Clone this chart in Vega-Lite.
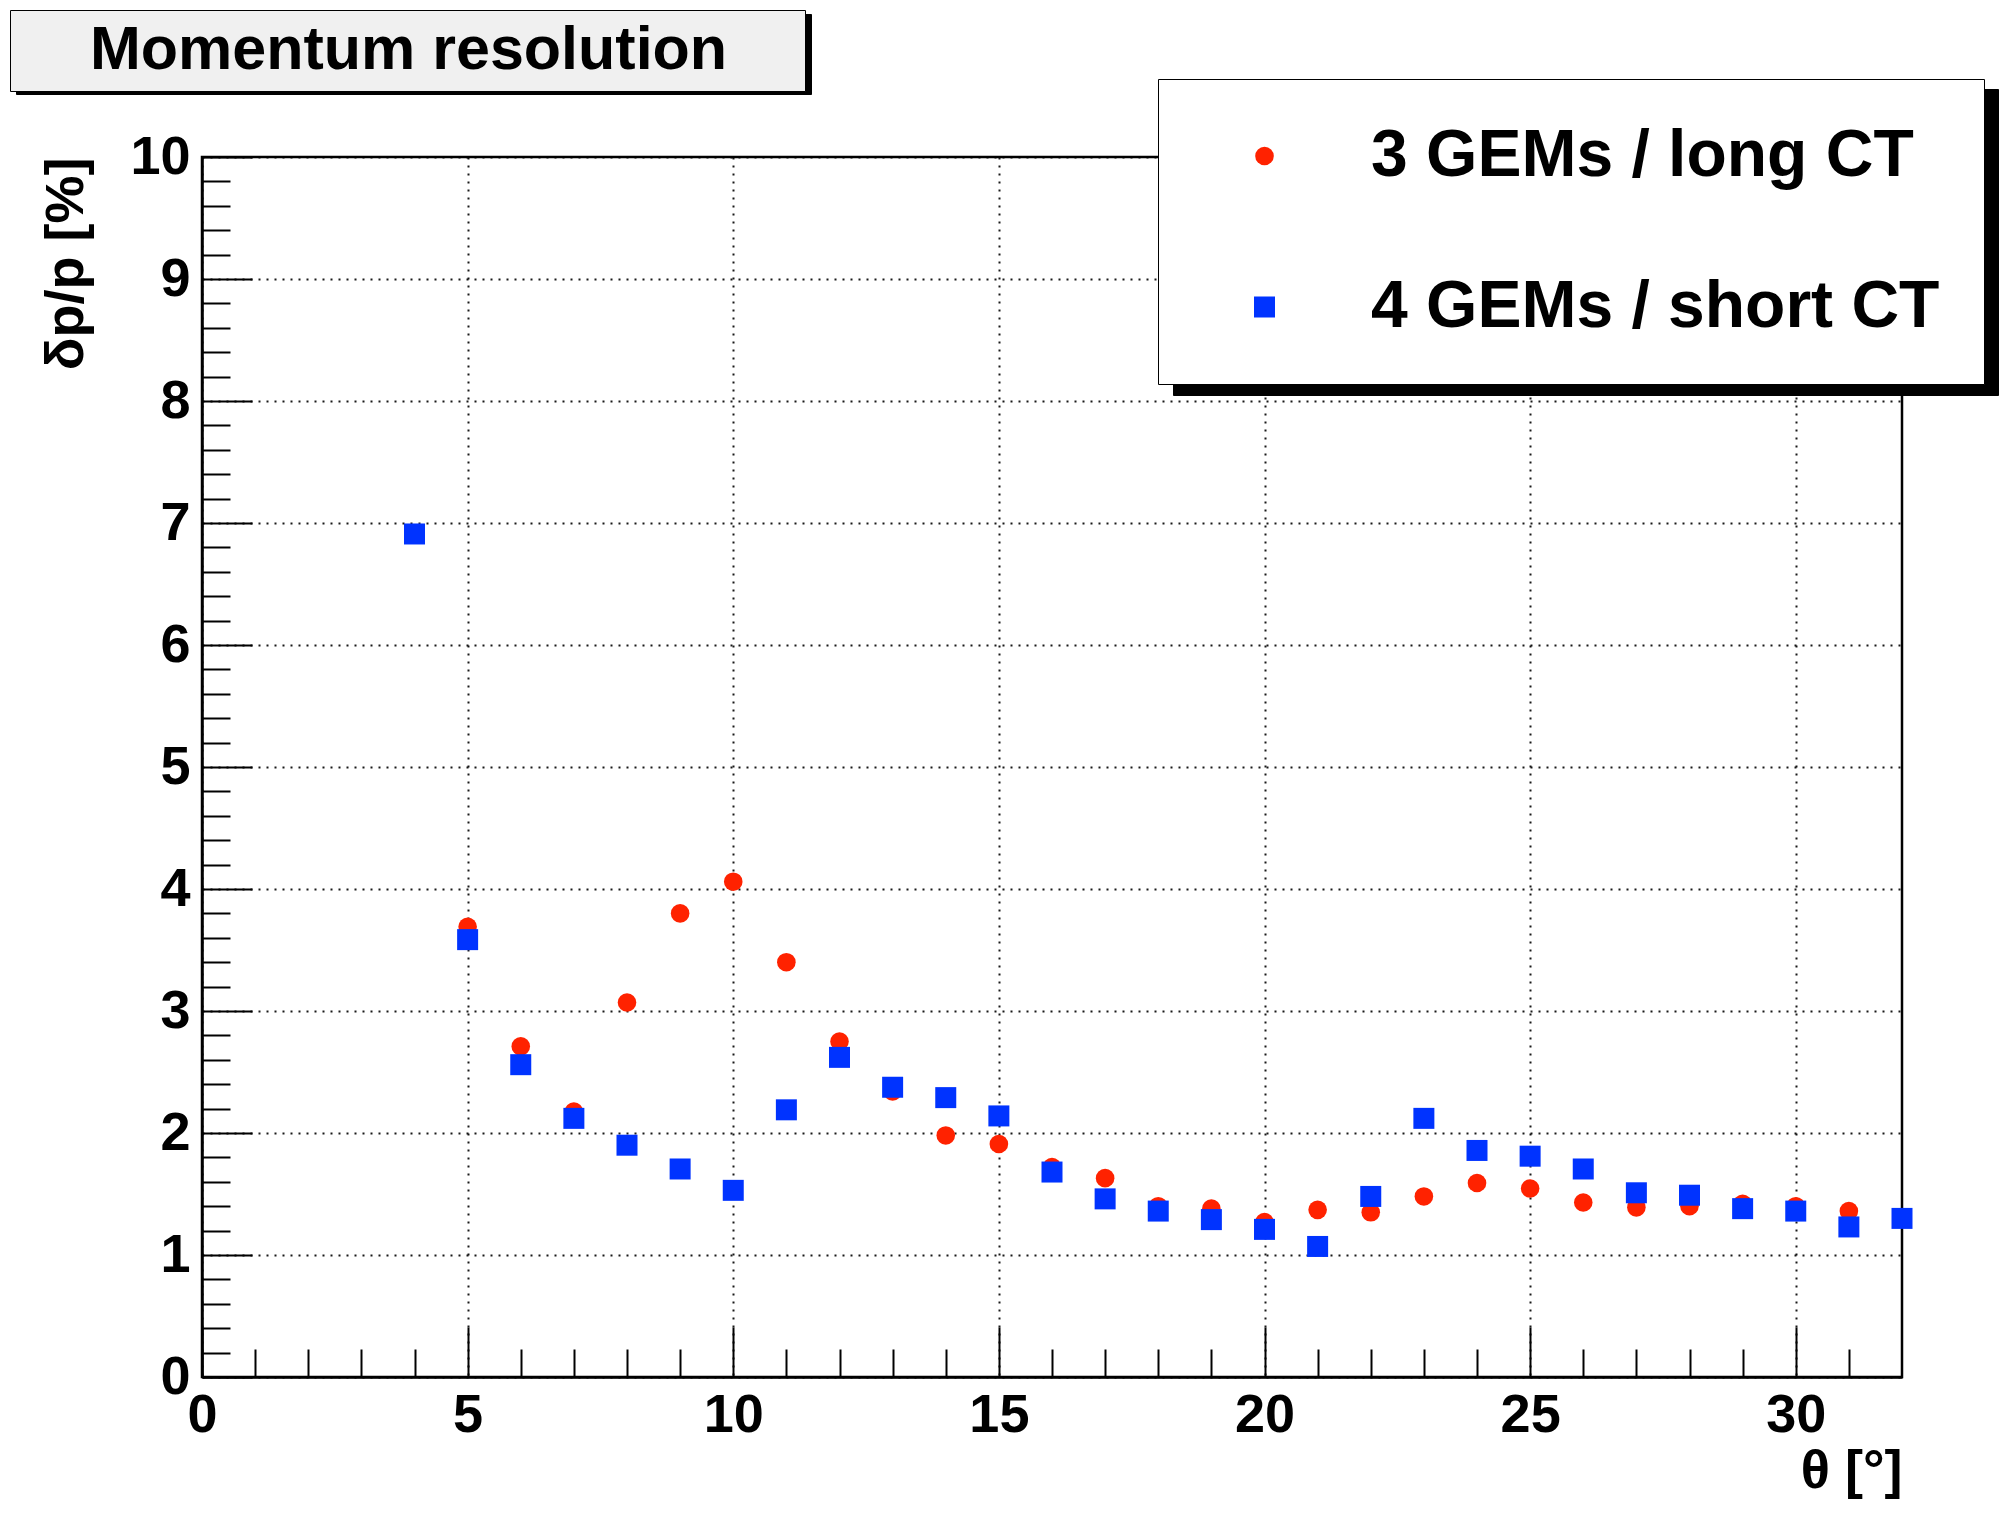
{
  "$schema": "https://vega.github.io/schema/vega-lite/v6.json",
  "width": 1700,
  "height": 1220,
  "autosize": {"type": "none"},
  "padding": {"left": 202, "top": 157, "right": 107, "bottom": 150},
  "background": "#ffffff",
  "config": {
    "view": {"stroke": "#000000", "strokeWidth": 2.5},
    "font": "Liberation Sans"
  },
  "datasets": {
    "long": [
      {"theta": 5, "res": 3.69, "series": "3 GEMs / long CT"},
      {"theta": 6, "res": 2.71, "series": "3 GEMs / long CT"},
      {"theta": 7, "res": 2.175, "series": "3 GEMs / long CT"},
      {"theta": 8, "res": 3.07, "series": "3 GEMs / long CT"},
      {"theta": 9, "res": 3.8, "series": "3 GEMs / long CT"},
      {"theta": 10, "res": 4.06, "series": "3 GEMs / long CT"},
      {"theta": 11, "res": 3.4, "series": "3 GEMs / long CT"},
      {"theta": 12, "res": 2.75, "series": "3 GEMs / long CT"},
      {"theta": 13, "res": 2.34, "series": "3 GEMs / long CT"},
      {"theta": 14, "res": 1.98, "series": "3 GEMs / long CT"},
      {"theta": 15, "res": 1.91, "series": "3 GEMs / long CT"},
      {"theta": 16, "res": 1.72, "series": "3 GEMs / long CT"},
      {"theta": 17, "res": 1.63, "series": "3 GEMs / long CT"},
      {"theta": 18, "res": 1.4, "series": "3 GEMs / long CT"},
      {"theta": 19, "res": 1.38, "series": "3 GEMs / long CT"},
      {"theta": 20, "res": 1.27, "series": "3 GEMs / long CT"},
      {"theta": 21, "res": 1.37, "series": "3 GEMs / long CT"},
      {"theta": 22, "res": 1.35, "series": "3 GEMs / long CT"},
      {"theta": 23, "res": 1.48, "series": "3 GEMs / long CT"},
      {"theta": 24, "res": 1.59, "series": "3 GEMs / long CT"},
      {"theta": 25, "res": 1.545, "series": "3 GEMs / long CT"},
      {"theta": 26, "res": 1.43, "series": "3 GEMs / long CT"},
      {"theta": 27, "res": 1.39, "series": "3 GEMs / long CT"},
      {"theta": 28, "res": 1.4, "series": "3 GEMs / long CT"},
      {"theta": 29, "res": 1.42, "series": "3 GEMs / long CT"},
      {"theta": 30, "res": 1.4, "series": "3 GEMs / long CT"},
      {"theta": 31, "res": 1.36, "series": "3 GEMs / long CT"}
    ],
    "short": [
      {"theta": 4, "res": 6.91, "series": "4 GEMs / short CT"},
      {"theta": 5, "res": 3.585, "series": "4 GEMs / short CT"},
      {"theta": 6, "res": 2.56, "series": "4 GEMs / short CT"},
      {"theta": 7, "res": 2.12, "series": "4 GEMs / short CT"},
      {"theta": 8, "res": 1.9, "series": "4 GEMs / short CT"},
      {"theta": 9, "res": 1.705, "series": "4 GEMs / short CT"},
      {"theta": 10, "res": 1.53, "series": "4 GEMs / short CT"},
      {"theta": 11, "res": 2.19, "series": "4 GEMs / short CT"},
      {"theta": 12, "res": 2.62, "series": "4 GEMs / short CT"},
      {"theta": 13, "res": 2.375, "series": "4 GEMs / short CT"},
      {"theta": 14, "res": 2.29, "series": "4 GEMs / short CT"},
      {"theta": 15, "res": 2.14, "series": "4 GEMs / short CT"},
      {"theta": 16, "res": 1.68, "series": "4 GEMs / short CT"},
      {"theta": 17, "res": 1.46, "series": "4 GEMs / short CT"},
      {"theta": 18, "res": 1.36, "series": "4 GEMs / short CT"},
      {"theta": 19, "res": 1.29, "series": "4 GEMs / short CT"},
      {"theta": 20, "res": 1.21, "series": "4 GEMs / short CT"},
      {"theta": 21, "res": 1.07, "series": "4 GEMs / short CT"},
      {"theta": 22, "res": 1.48, "series": "4 GEMs / short CT"},
      {"theta": 23, "res": 2.12, "series": "4 GEMs / short CT"},
      {"theta": 24, "res": 1.857, "series": "4 GEMs / short CT"},
      {"theta": 25, "res": 1.81, "series": "4 GEMs / short CT"},
      {"theta": 26, "res": 1.705, "series": "4 GEMs / short CT"},
      {"theta": 27, "res": 1.51, "series": "4 GEMs / short CT"},
      {"theta": 28, "res": 1.49, "series": "4 GEMs / short CT"},
      {"theta": 29, "res": 1.38, "series": "4 GEMs / short CT"},
      {"theta": 30, "res": 1.36, "series": "4 GEMs / short CT"},
      {"theta": 31, "res": 1.23, "series": "4 GEMs / short CT"},
      {"theta": 32, "res": 1.3, "series": "4 GEMs / short CT"}
    ]
  },
  "layer": [
    {
      "data": {"values": [{"legendshadow": "legend shadow"}]},
      "mark": {"type": "point", "opacity": 0},
      "encoding": {
        "stroke": {
          "field": "legendshadow", "type": "nominal",
          "scale": {"range": ["#000000"]},
          "legend": {
            "orient": "none", "legendX": 971, "legendY": -68,
            "title": null,
            "fillColor": "#000000", "strokeColor": "#000000",
            "padding": 0,
            "symbolType": "square", "symbolSize": 93636, "symbolOffset": 519, "labelOffset": 0,
            "symbolOpacity": 0, "symbolStrokeWidth": 0,
            "labelFontSize": 1, "labelExpr": "''"
          }
        }
      }
    },
    {
      "data": {"values": [{"titleshadow": "title shadow"}]},
      "mark": {"type": "point", "opacity": 0},
      "encoding": {
        "fill": {
          "field": "titleshadow", "type": "nominal",
          "scale": {"range": ["#000000"]},
          "legend": {
            "orient": "none", "legendX": -186, "legendY": -143,
            "title": null,
            "fillColor": "#000000", "strokeColor": "#000000",
            "padding": 0,
            "symbolType": "square", "symbolSize": 6400, "symbolOffset": 715, "labelOffset": 0,
            "symbolOpacity": 0, "symbolStrokeWidth": 0,
            "labelFontSize": 1, "labelExpr": "''"
          }
        }
      }
    },
    {
      "data": {"name": "long"},
      "mark": {"type": "point", "filled": true, "opacity": 1},
      "encoding": {
        "x": {
          "field": "theta", "type": "quantitative",
          "scale": {"domain": [0, 32], "nice": false, "zero": false},
          "axis": {
            "orient": "bottom",
            "values": [0, 5, 10, 15, 20, 25, 30],
            "grid": true, "gridDash": [2, 6], "gridColor": "#000000", "gridWidth": 2, "gridOpacity": 0.9,
            "ticks": true, "tickSize": -50, "tickWidth": 2, "tickColor": "#000000",
            "domain": true, "domainColor": "#000000", "domainWidth": 2.5,
            "labelFont": "Liberation Sans", "labelFontSize": 54, "labelFontWeight": "bold", "labelColor": "#000000",
            "labelPadding": 61, "labelFlush": false, "labelOverlap": false,
            "title": "θ [°]",
            "titleFont": "Liberation Sans", "titleFontSize": 54, "titleFontWeight": "bold", "titleColor": "#000000",
            "titleX": 1700, "titleY": 94, "titleAlign": "right", "titleBaseline": "middle"
          }
        },
        "y": {
          "field": "res", "type": "quantitative",
          "scale": {"domain": [0, 10], "nice": false, "zero": true},
          "axis": {
            "orient": "left",
            "values": [0, 1, 2, 3, 4, 5, 6, 7, 8, 9, 10],
            "grid": true, "gridDash": [2, 6], "gridColor": "#000000", "gridWidth": 2, "gridOpacity": 0.9,
            "ticks": true, "tickSize": -50, "tickWidth": 2, "tickColor": "#000000",
            "domain": true, "domainColor": "#000000", "domainWidth": 2.5,
            "labelFont": "Liberation Sans", "labelFontSize": 54, "labelFontWeight": "bold", "labelColor": "#000000",
            "labelPadding": 62, "labelFlush": false, "labelOverlap": false,
            "title": "δp/p [%]",
            "titleFont": "Liberation Sans", "titleFontSize": 54, "titleFontWeight": "bold", "titleColor": "#000000",
            "titleX": -136, "titleY": 0, "titleAngle": -90, "titleAlign": "right", "titleBaseline": "middle"
          }
        },
        "color": {
          "field": "series", "type": "nominal",
          "scale": {"domain": ["3 GEMs / long CT", "4 GEMs / short CT"], "range": ["#ff2200", "#0033ff"]},
          "legend": {
            "orient": "none", "legendX": 956, "legendY": -78,
            "title": null,
            "fillColor": "#ffffff", "strokeColor": "#000000",
            "padding": 44, "rowPadding": 85,
            "symbolSize": 480, "symbolOffset": 29.5, "labelOffset": 73.5, "symbolStrokeWidth": 0,
            "labelFont": "Liberation Sans", "labelFontSize": 66, "labelFontWeight": "bold", "labelColor": "#000000",
            "labelLimit": 2000
          }
        },
        "shape": {
          "field": "series", "type": "nominal",
          "scale": {"domain": ["3 GEMs / long CT", "4 GEMs / short CT"], "range": ["circle", "square"]}
        },
        "size": {
          "field": "series", "type": "nominal",
          "scale": {"domain": ["3 GEMs / long CT", "4 GEMs / short CT"], "range": [346, 441]},
          "legend": null
        }
      }
    },
    {
      "data": {"name": "short"},
      "mark": {"type": "point", "filled": true, "opacity": 1},
      "encoding": {
        "x": {
          "field": "theta", "type": "quantitative",
          "axis": {
            "orient": "bottom",
            "values": [1, 2, 3, 4, 6, 7, 8, 9, 11, 12, 13, 14, 16, 17, 18, 19, 21, 22, 23, 24, 26, 27, 28, 29, 31],
            "grid": false, "labels": false, "domain": false, "title": null,
            "ticks": true, "tickSize": -28, "tickWidth": 2, "tickColor": "#000000"
          }
        },
        "y": {
          "field": "res", "type": "quantitative",
          "axis": {
            "orient": "left",
            "values": [0.2, 0.4, 0.6, 0.8, 1.2, 1.4, 1.6, 1.8, 2.2, 2.4, 2.6, 2.8, 3.2, 3.4, 3.6, 3.8, 4.2, 4.4, 4.6, 4.8, 5.2, 5.4, 5.6, 5.8, 6.2, 6.4, 6.6, 6.8, 7.2, 7.4, 7.6, 7.8, 8.2, 8.4, 8.6, 8.8, 9.2, 9.4, 9.6, 9.8],
            "grid": false, "labels": false, "domain": false, "title": null,
            "ticks": true, "tickSize": -28, "tickWidth": 2, "tickColor": "#000000"
          }
        },
        "color": {"field": "series", "type": "nominal"},
        "shape": {"field": "series", "type": "nominal"},
        "size": {"field": "series", "type": "nominal", "legend": null}
      }
    },
    {
      "data": {"values": [{"t": "Momentum resolution"}]},
      "mark": {"type": "point", "opacity": 0},
      "encoding": {
        "strokeDash": {
          "field": "t", "type": "nominal",
          "scale": {"range": [[1, 0]]},
          "legend": {
            "orient": "none", "legendX": -192, "legendY": -147,
            "title": null,
            "fillColor": "#f0f0f0", "strokeColor": "#000000",
            "padding": 10,
            "symbolSize": 1, "symbolOffset": 743.5, "labelOffset": -734.5, "symbolStrokeWidth": 0, "symbolOpacity": 0,
            "labelFont": "Liberation Sans", "labelFontSize": 61, "labelFontWeight": "bold", "labelColor": "#000000",
            "labelLimit": 2000
          }
        }
      }
    }
  ],
  "resolve": {"axis": {"x": "independent", "y": "independent"}}
}
